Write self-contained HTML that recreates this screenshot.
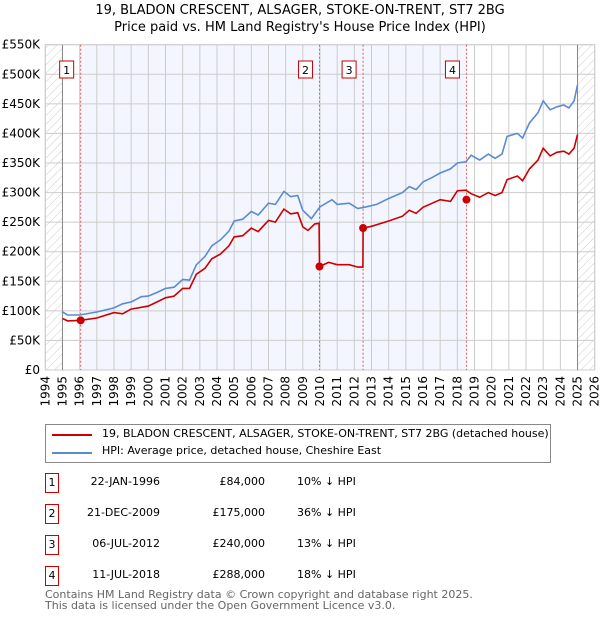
<!DOCTYPE html>
<html><head><meta charset="utf-8"><style>
body{margin:0;background:#fff;font-family:"DejaVu Sans","Liberation Sans",sans-serif;}
#wrap{position:relative;width:600px;height:620px;overflow:hidden}
.t{position:absolute;white-space:nowrap;color:#000}
</style></head><body><div id="wrap">
<div class="t" style="left:0;width:600px;text-align:center;top:2px;font-size:13px;line-height:17px">19, BLADON CRESCENT, ALSAGER, STOKE-ON-TRENT, ST7 2BG<br>Price paid vs. HM Land Registry's House Price Index (HPI)</div>
<svg id="c" width="600" height="420" style="position:absolute;left:0;top:0"></svg>
<div style="position:absolute;left:45px;top:424px;width:504px;height:37px;border:1px solid #888;font-size:11px">
<div style="position:absolute;left:6px;top:9px;width:40px;height:2px;background:#cc0000"></div>
<div class="t" style="left:56px;top:2px">19, BLADON CRESCENT, ALSAGER, STOKE-ON-TRENT, ST7 2BG (detached house)</div>
<div style="position:absolute;left:6px;top:27px;width:40px;height:2px;background:#5b8bd0"></div>
<div class="t" style="left:56px;top:19px">HPI: Average price, detached house, Cheshire East</div>
</div>
<div id="tbl"></div>
<div class="t" style="left:45px;top:589px;font-size:11px;line-height:11px;color:#666">Contains HM Land Registry data © Crown copyright and database right 2025.<br>This data is licensed under the Open Government Licence v3.0.</div>
</div>
<script>
const hpiYears=[1995,1995.3,1996,1997,1998,1998.5,1999,1999.6,2000,2000.5,2001,2001.5,2002,2002.4,2002.8,2003.3,2003.7,2004.2,2004.7,2005,2005.5,2006,2006.4,2007,2007.4,2007.9,2008.3,2008.7,2009,2009.5,2010,2010.7,2011,2011.7,2012.2,2012.7,2013.3,2014,2014.8,2015.2,2015.6,2016,2016.5,2017,2017.6,2018,2018.5,2018.8,2019.3,2019.8,2020.2,2020.6,2020.9,2021.5,2021.8,2022.2,2022.7,2023,2023.4,2023.8,2024.2,2024.5,2024.8,2025];
const hpiValues=[98,93,93,98,105,112,115,124,125,131,138,140,153,152,178,192,210,220,235,252,255,268,262,282,280,302,293,295,270,256,276,288,280,282,273,276,280,290,300,310,305,318,325,333,340,350,352,363,355,365,358,365,395,400,392,418,435,455,440,445,448,443,455,482];
const redYears=[1995,1995.3,1996.06,1997,1998,1998.5,1999,2000,2000.5,2001,2001.5,2002,2002.4,2002.8,2003.3,2003.7,2004.2,2004.7,2005,2005.5,2006,2006.4,2007,2007.4,2007.9,2008.3,2008.7,2009,2009.3,2009.7,2009.95,2009.97,2010.5,2011,2011.7,2012.2,2012.5,2012.51,2013,2014,2014.8,2015.2,2015.6,2016,2017,2017.6,2018,2018.5,2018.8,2019.3,2019.8,2020.2,2020.6,2020.9,2021.5,2021.8,2022.2,2022.7,2023,2023.4,2023.8,2024.2,2024.5,2024.8,2025];
const redValues=[87,83,84,88,97,95,103,108,115,122,125,138,138,162,172,188,196,210,225,227,240,234,253,250,272,264,266,242,236,247,248,175,182,178,178,174,174,240,243,252,260,270,265,275,288,285,303,304,298,292,300,295,300,322,328,320,340,355,375,362,368,370,365,375,398];
const saleLabels=["1","2","3","4"];
const saleYears=[1996.06,2009.97,2012.51,2018.53];
const saleValues=[84,175,240,288];
const saleDates=["22-JAN-1996","21-DEC-2009","06-JUL-2012","11-JUL-2018"];
const salePrices=["£84,000","£175,000","£240,000","£288,000"];
const saleDiffs=["10% ↓ HPI","36% ↓ HPI","13% ↓ HPI","18% ↓ HPI"];
const yTicks=[0,50,100,150,200,250,300,350,400,450,500,550];
const yTickLabels=["£0","£50K","£100K","£150K","£200K","£250K","£300K","£350K","£400K","£450K","£500K","£550K"];
const xTicks=[1994,1995,1996,1997,1998,1999,2000,2001,2002,2003,2004,2005,2006,2007,2008,2009,2010,2011,2012,2013,2014,2015,2016,2017,2018,2019,2020,2021,2022,2023,2024,2025,2026];

const L=45.3,R=594.7,T=44.7,B=370;
const X=y=>L+(y-1994)/32*(R-L);
const Y=v=>B-v/550*(B-T);
const svg=document.getElementById('c');const NS='http://www.w3.org/2000/svg';
function mk(tag,a,name,parent){const e=document.createElementNS(NS,tag);for(const k in a)e.setAttribute(k,a[k]);


(parent||svg).appendChild(e);return e;}
const defs=mk('defs',{},'defs');
const pat=mk('pattern',{id:'h',width:6,height:6,patternUnits:'userSpaceOnUse',patternTransform:'rotate(45)'},'hatch-pattern',defs);
mk('line',{x1:0,y1:0,x2:0,y2:6,stroke:'#ccc','stroke-width':1},'hatch-line',pat);
mk('rect',{x:X(1996.06),y:T,width:X(2018.53)-X(1996.06),height:B-T,fill:'#f3f6fe'},'shaded-period');
mk('rect',{x:L,y:T,width:X(1995)-L,height:B-T,fill:'url(#h)'},'hatch-left');
mk('rect',{x:X(2025),y:T,width:R-X(2025),height:B-T,fill:'url(#h)'},'hatch-right');
yTicks.forEach((v,i)=>{mk('line',{x1:L,x2:R,y1:Y(v),y2:Y(v),stroke:'#ccc'},'y-gridline');
const t=mk('text',{x:40,y:Y(v)+4,'text-anchor':'end','font-size':12,fill:'#000'},'y-tick-label');t.textContent=yTickLabels[i];});
xTicks.forEach(y=>{mk('line',{x1:X(y),x2:X(y),y1:T,y2:B,stroke:'#ccc'},'x-gridline');
const t=mk('text',{x:0,y:0,transform:`translate(${X(y)+4},${B+6}) rotate(-90)`,'text-anchor':'end','font-size':12,fill:'#000'},'x-tick-label');t.textContent=y;});
mk('rect',{x:L,y:T,width:R-L,height:B-T,fill:'none',stroke:'#ccc'},'plot-border');
mk('line',{x1:X(1995),x2:X(1995),y1:T,y2:B,stroke:'#888'},'data-start-line');
mk('line',{x1:X(2025),x2:X(2025),y1:T,y2:B,stroke:'#888'},'data-end-line');
saleYears.forEach((y,i)=>{mk('line',{x1:X(y),x2:X(y),y1:T,y2:B,stroke:'#e06060','stroke-dasharray':'2,2'},'sale-marker-line');});
const pts=(xs,vs)=>xs.map((x,i)=>X(x).toFixed(1)+','+Y(vs[i]).toFixed(1)).join(' ');
mk('polyline',{points:pts(hpiYears,hpiValues),fill:'none',stroke:'#5b8bd0','stroke-width':1.6},'hpi-line');
mk('polyline',{points:pts(redYears,redValues),fill:'none',stroke:'#cc0000','stroke-width':1.6},'property-price-line');
saleYears.forEach((y,i)=>{mk('circle',{cx:X(y),cy:Y(saleValues[i]),r:4,fill:'#cc0000'},'sale-point');
const bx=X(y)-21;mk('rect',{x:bx,y:61,width:14,height:17,fill:'#fff',stroke:'#cc0000'},'sale-label-box');
const t=mk('text',{x:bx+7,y:74,'text-anchor':'middle','font-size':11,fill:'#000'},'sale-label');t.textContent=saleLabels[i];});
const tbl=document.getElementById('tbl');
saleLabels.forEach((s,i)=>{const top=473+i*31;
const row=document.createElement('div');
row.style.cssText=`position:absolute;left:0;top:${top}px;width:600px;height:20px;font-size:11px`;
row.innerHTML=`<div style="position:absolute;left:45px;top:0;width:12px;height:18px;border:1px solid #cc0000;text-align:center;line-height:17px">${s}</div>
<div class="t" style="right:440px;top:2px">${saleDates[i]}</div>
<div class="t" style="right:335px;top:2px">${salePrices[i]}</div>
<div class="t" style="left:297px;top:2px">${saleDiffs[i]}</div>`;
tbl.appendChild(row);});
</script></body></html>
